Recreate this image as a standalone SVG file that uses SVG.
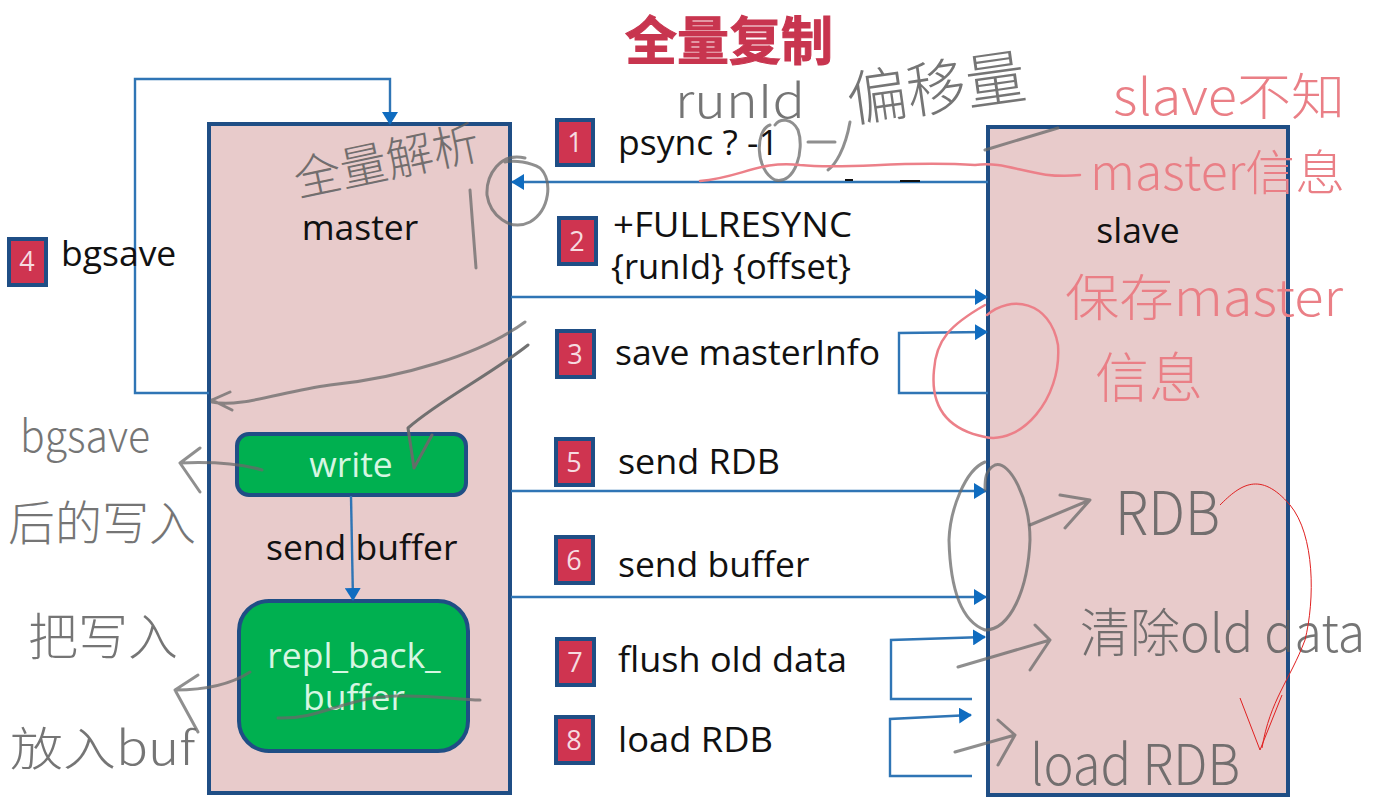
<svg xmlns="http://www.w3.org/2000/svg" width="1380" height="812" viewBox="0 0 1380 812">
<style>
text{font-family:"Open Sans","Noto Sans","Noto Sans CJK SC",sans-serif}
.panel{fill:#e8cbcb;stroke:#1f4e85;stroke-width:4}
.green{fill:#00b050;stroke:#1f4e85;stroke-width:4}
.badge rect{fill:#cf3450;stroke:#1f4e85;stroke-width:4}
.badge text{fill:#f6dbe0;font-size:27px;text-anchor:middle}
.lbl{fill:#111;font-size:35.5px}
.in{fill:#d6f6e2;font-size:35.5px;text-anchor:middle}
.conn path{fill:none;stroke:#2f75b5;stroke-width:2.4}
.hw{font-family:"Noto Sans CJK SC","Noto Sans",sans-serif;font-weight:300;fill:#5e5e5e;opacity:.85}
.hr{font-family:"Noto Sans CJK SC","Noto Sans",sans-serif;font-weight:300;fill:#ea7f86}
.sg{fill:none;stroke:#6a6a6a;stroke-width:3;stroke-linecap:round;stroke-linejoin:round;opacity:.75}
.sr{fill:none;stroke:#ec8089;stroke-width:2.5;stroke-linecap:round;stroke-linejoin:round}
</style>
<defs>
<marker id="ah" markerUnits="userSpaceOnUse" markerWidth="14" markerHeight="16" refX="12" refY="8" orient="auto"><path d="M0 0L13 8L0 16Z" fill="#0f6cc0"/></marker>
</defs>
<text id="title" x="729" y="60" text-anchor="middle" font-size="52" font-weight="700" fill="#c8354f" stroke="#c8354f" stroke-width="1" style="font-family:'Noto Sans CJK SC',sans-serif">全量复制</text>
<g id="master"><rect class="panel" x="209" y="124" width="301" height="669"/><text class="lbl" x="360" y="240" text-anchor="middle">master</text></g>
<g id="slave"><rect class="panel" x="988" y="127" width="300" height="668"/><text class="lbl" x="1138" y="243" text-anchor="middle">slave</text></g>
<g id="write"><rect class="green" x="237" y="434" width="229" height="61" rx="12"/><text class="in" x="351" y="477">write</text></g>
<g id="buffer"><rect class="green" x="239" y="601" width="229" height="150" rx="30"/><text class="in" x="354" y="668">repl_back_</text><text class="in" x="354" y="710">buffer</text></g>
<g class="conn" id="connectors">
<path d="M209 393H135V79H390V124" marker-end="url(#ah)"/>
<path d="M988 182H512" marker-end="url(#ah)"/>
<path d="M511 297H987" marker-end="url(#ah)"/>
<path d="M988 393H899V333L987 332" marker-end="url(#ah)"/>
<path d="M511 491H986" marker-end="url(#ah)"/>
<path d="M511 597H986" marker-end="url(#ah)"/>
<path d="M972 699H891V640L985 637" marker-end="url(#ah)"/>
<path d="M972 776H890V719L971 715" marker-end="url(#ah)"/>
<path d="M351 496L353 600" marker-end="url(#ah)"/>
</g>
<g id="s1" class="badge"><rect x="557" y="120" width="36" height="45"/><text x="575" y="152">1</text></g>
<g id="s2" class="badge"><rect x="559" y="218" width="37" height="46"/><text x="577" y="251">2</text></g>
<g id="s3" class="badge"><rect x="557" y="331" width="37" height="46"/><text x="575" y="364">3</text></g>
<g id="s4" class="badge"><rect x="9" y="239" width="37" height="46"/><text x="27" y="271">4</text></g>
<g id="s5" class="badge"><rect x="556" y="439" width="37" height="46"/><text x="574" y="472">5</text></g>
<g id="s6" class="badge"><rect x="556" y="537" width="37" height="46"/><text x="574" y="570">6</text></g>
<g id="s7" class="badge"><rect x="557" y="639" width="37" height="46"/><text x="575" y="672">7</text></g>
<g id="s8" class="badge"><rect x="556" y="717" width="37" height="46"/><text x="574" y="750">8</text></g>
<text class="lbl" x="61" y="266">bgsave</text>
<text class="lbl" x="618" y="155">psync ? -1</text>
<text class="lbl" x="613" y="237" textLength="239" lengthAdjust="spacingAndGlyphs">+FULLRESYNC</text>
<text class="lbl" x="611" y="279" textLength="240" lengthAdjust="spacingAndGlyphs">{runId} {offset}</text>
<text class="lbl" x="615" y="365">save masterInfo</text>
<text class="lbl" x="618" y="474" textLength="162" lengthAdjust="spacingAndGlyphs">send RDB</text>
<text class="lbl" x="618" y="577">send buffer</text>
<text class="lbl" x="618" y="672" textLength="229" lengthAdjust="spacingAndGlyphs">flush old data</text>
<text class="lbl" x="618" y="752" textLength="155" lengthAdjust="spacingAndGlyphs">load RDB</text>
<text class="lbl" x="266" y="560">send buffer</text>
<g id="pen-grey">
<text class="hw" transform="translate(298 197) rotate(-12)" font-size="47">全量解析</text>
<text class="hw" x="675" y="118" font-size="46" textLength="130" lengthAdjust="spacingAndGlyphs">runId</text>
<text class="hw" transform="translate(850 122) rotate(-8)" font-size="60">偏移量</text>
<text class="hw" x="20" y="452" font-size="44" textLength="130" lengthAdjust="spacingAndGlyphs">bgsave</text>
<text class="hw" x="8" y="540" font-size="47">后的写入</text>
<text class="hw" x="28" y="655" font-size="50">把写入</text>
<text class="hw" x="10" y="765" font-size="46" textLength="185" lengthAdjust="spacingAndGlyphs">放入buf</text>
<text class="hw" x="1115" y="535" font-size="60" textLength="105" lengthAdjust="spacingAndGlyphs">RDB</text>
<text class="hw" x="1080" y="652" font-size="52" textLength="285" lengthAdjust="spacingAndGlyphs">清除old data</text>
<text class="hw" x="1030" y="785" font-size="56" textLength="210" lengthAdjust="spacingAndGlyphs">load RDB</text>
<path class="sg" d="M525 158C500 152 486 175 487 195C490 215 510 232 530 222C550 210 553 180 540 168C530 162 515 160 505 162"/>
<path class="sg" d="M770 125C755 130 755 170 775 180C795 185 805 150 798 130C792 118 780 118 775 125"/>
<path class="sg" d="M808 142L835 142M850 122C845 150 835 165 828 170"/>
<path class="sg" d="M985 150L1058 128"/>
<path class="sg" d="M476 268L470 190"/>
<path class="sg" d="M525 322C480 355 400 378 330 385C280 392 240 408 212 402M212 400L232 410M212 400L230 392"/>
<path class="sg" d="M528 345C490 375 440 400 408 428L414 468L432 435" style="opacity:.95"/>
<path class="sg" d="M262 470C235 462 205 462 180 463L200 448M180 463L200 492"/>
<path class="sg" d="M250 672C230 685 205 690 175 690L198 675M175 690L198 732"/>
<path class="sg" d="M278 718C320 720 350 695 400 696C430 695 460 700 480 700"/>
<path class="sg" d="M985 462C965 470 950 510 949 540C950 580 958 620 985 630C1010 630 1028 590 1030 540C1030 500 1010 460 995 465C985 470 985 480 985 490"/>
<path class="sg" d="M1030 525L1090 500L1065 528M1090 500L1060 495"/>
<path class="sg" d="M958 667L1050 640L1030 670M1050 640L1035 625"/>
<path class="sg" d="M955 752L1015 735L998 765M1015 735L998 720"/>
<path d="M845 180H853M900 181H920" stroke="#111" stroke-width="2"/>
</g>
<g id="pen-red">
<text class="hr" x="1113" y="115" font-size="50" textLength="232" lengthAdjust="spacingAndGlyphs">slave不知</text>
<text class="hr" x="1090" y="190" font-size="48" textLength="255" lengthAdjust="spacingAndGlyphs">master信息</text>
<text class="hr" x="1065" y="316" font-size="50" textLength="278" lengthAdjust="spacingAndGlyphs">保存master</text>
<text class="hr" x="1095" y="398" font-size="54">信息</text>
<path class="sr" d="M700 181C740 178 760 160 800 165C850 170 900 160 975 165C1010 160 1030 180 1080 175"/>
<path class="sr" d="M987 315C1010 295 1050 300 1058 345C1062 400 1020 445 985 437C950 430 930 410 934 370C936 340 950 325 985 305"/>
<path d="M1220 505C1240 485 1260 470 1290 505C1315 535 1315 600 1305 640C1290 680 1270 700 1262 748M1240 698L1260 750L1282 695" fill="none" stroke="#e02020" stroke-width="1"/>
</g>
</svg>
